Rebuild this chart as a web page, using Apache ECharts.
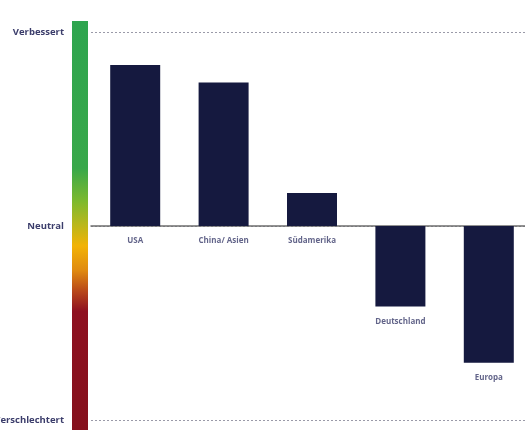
<!DOCTYPE html>
<html><head><meta charset="utf-8">
<script src="https://cdn.jsdelivr.net/npm/echarts@6/dist/echarts.min.js"></script>
<style>html,body{margin:0;padding:0;background:#fff}#c{width:525px;height:430px}</style>
</head><body><div id="c"></div>
<script>
const categories = ['USA', 'China/ Asien', 'Südamerika', 'Deutschland', 'Europa'];
const values = [0.83, 0.74, 0.17, -0.415, -0.705];
const yTickLabels = {'-1': 'Verschlechtert', '0': 'Neutral', '1': 'Verbessert'};

const chart = echarts.init(document.getElementById('c'));
const labelColor = '#3b3d6b';
chart.setOption({
  animation: false,
  grid: {left: 91, width: 442, top: 32, bottom: 10, outerBoundsMode: 'none', containLabel: false},
  xAxis: {
    type: 'category', data: categories,
    axisLine: {show: true, lineStyle: {color: '#6e6e6e', width: 1.5}},
    axisTick: {show: false}, axisLabel: {show: false}, splitLine: {show: false}
  },
  yAxis: {
    type: 'value', min: -1, max: 1, interval: 1,
    axisLine: {show: false}, axisTick: {show: false},
    axisLabel: {
      margin: 27, fontSize: 9.5, fontWeight: 'bold', color: labelColor,
      fontFamily: 'Open Sans',
      formatter: v => yTickLabels[String(v)] || ''
    },
    splitLine: {show: true, lineStyle: {color: '#9a9aa8', type: [2, 2], width: 1}}
  },
  graphic: [{
    type: 'rect', left: 72, top: 21, z: 10,
    shape: {width: 16, height: 409},
    style: {fill: new echarts.graphic.LinearGradient(0, 0, 0, 1, [
      {offset: 0, color: '#2ea54f'},
      {offset: 0.36, color: '#38a84a'},
      {offset: 0.44, color: '#7cb92e'},
      {offset: 0.5, color: '#bcb71a'},
      {offset: 0.55, color: '#f2b305'},
      {offset: 0.61, color: '#e08a10'},
      {offset: 0.66, color: '#b8481a'},
      {offset: 0.71, color: '#8e1020'},
      {offset: 1, color: '#85101c'}
    ])}
  }],
  series: [{
    type: 'bar', data: values, barWidth: 50,
    itemStyle: {color: '#15193f'}
  }, {
    type: 'scatter', data: values.map((v, i) => [i, Math.min(v, 0)]),
    symbolSize: 0, silent: true,
    label: {
      show: true, position: 'bottom', distance: 11,
      formatter: p => categories[p.dataIndex],
      fontSize: 8, fontWeight: 'bold', color: labelColor, fontFamily: 'Open Sans'
    }
  }]
});
</script></body></html>
